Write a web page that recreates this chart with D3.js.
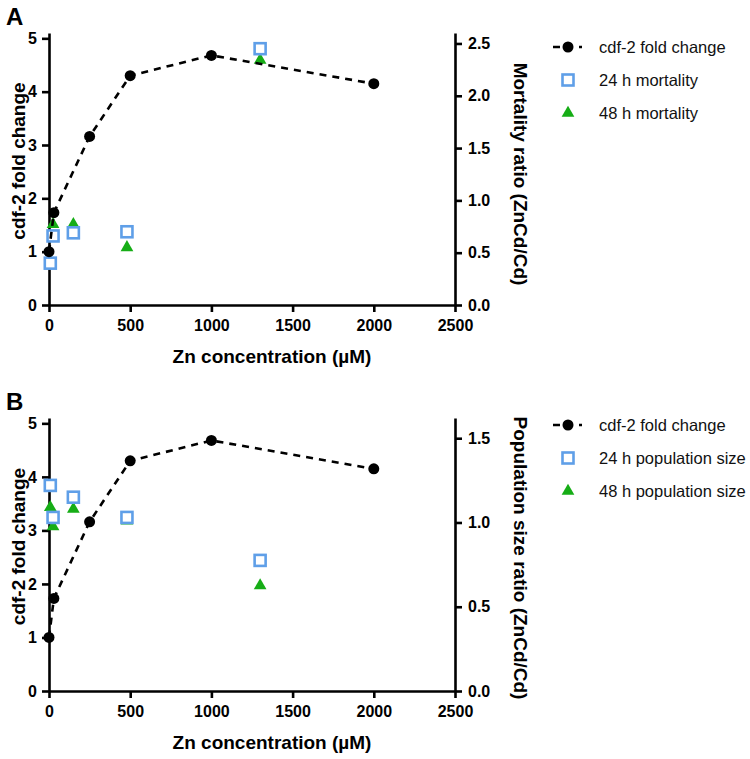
<!DOCTYPE html>
<html>
<head>
<meta charset="utf-8">
<script src="https://cdn.jsdelivr.net/npm/d3@7"></script>
<style>
  html, body { margin: 0; padding: 0; background: #fff; }
  svg text { font-family: "Liberation Sans", Arial, sans-serif; }
</style>
</head>
<body>
<svg id="chart" width="750" height="759"></svg>
<script>
// ---------------- data ----------------
const xTicks = [0, 500, 1000, 1500, 2000, 2500];
const leftTicks = [0, 1, 2, 3, 4, 5];
const rightTicksA = [0, 0.5, 1.0, 1.5, 2.0, 2.5];
const rightTicksB = [0, 0.5, 1.0, 1.5];

const cdfConc = [0, 30, 250, 500, 1000, 2000];
const cdfFold = [1.0, 1.73, 3.16, 4.30, 4.68, 4.15];

const ratioConc = [8, 25, 150, 480, 1300];
const mort24 = [0.40, 0.66, 0.69, 0.70, 2.45];
const mort48 = [0.41, 0.77, 0.77, 0.55, 2.34];
const pop24 = [1.22, 1.03, 1.15, 1.03, 0.775];
const pop48 = [1.09, 0.975, 1.08, 1.01, 0.625];

const legendA = ["cdf-2 fold change", "24 h mortality", "48 h mortality"];
const legendB = ["cdf-2 fold change", "24 h population size", "48 h population size"];

// ---------------- styling ----------------
const BLUE = "#5f9fe8";
const GREEN = "#16ad16";
const svg = d3.select("#chart");

function panel(cfg) {
  const g = svg.append("g");
  const x = d3.scaleLinear().domain([0, 2500]).range([49, 455]);
  const yL = d3.scaleLinear().domain([0, 5.1]).range([cfg.bottom, cfg.top]);
  const yR = d3.scaleLinear().domain([0, cfg.rightMax]).range([cfg.bottom, cfg.top]);

  // axes
  const styleAxis = sel => {
    sel.select(".domain").attr("stroke", "#000").attr("stroke-width", 2.6);
    sel.selectAll(".tick line").attr("stroke", "#000").attr("stroke-width", 2.6);
    sel.selectAll(".tick text").attr("fill", "#000")
      .style("font-size", "16px").style("font-weight", "bold")
      .style("font-family", '"Liberation Sans", Arial, sans-serif');
  };
  g.append("g").attr("transform", `translate(0,${cfg.bottom})`)
    .call(d3.axisBottom(x).tickValues(xTicks).tickSize(7).tickSizeOuter(0).tickPadding(8).tickFormat(d3.format("d")))
    .call(styleAxis);
  g.append("g").attr("transform", `translate(49,0)`)
    .call(d3.axisLeft(yL).tickValues(leftTicks).tickSize(7).tickSizeOuter(0).tickPadding(5).tickFormat(d3.format("d")))
    .call(styleAxis);
  g.append("g").attr("transform", `translate(455,0)`)
    .call(d3.axisRight(yR).tickValues(cfg.rightTicks).tickSize(7).tickSizeOuter(0).tickPadding(6).tickFormat(d3.format(".1f")))
    .call(styleAxis);

  // titles
  g.append("text").attr("x", 6).attr("y", cfg.top - 8)
    .style("font-size", "24px").style("font-weight", "bold").text(cfg.letter);
  g.append("text").attr("x", 272).attr("y", cfg.bottom + 58).attr("text-anchor", "middle")
    .style("font-size", "19px").style("font-weight", "bold").text("Zn concentration (µM)");
  g.append("text")
    .attr("transform", `translate(18,${(cfg.top + cfg.bottom) / 2 - 8}) rotate(-90)`)
    .attr("text-anchor", "middle").attr("dominant-baseline", "central")
    .style("font-size", "19px").style("font-weight", "bold").text("cdf-2 fold change");
  g.append("text")
    .attr("transform", `translate(520,${cfg.rightLabelY}) rotate(90)`)
    .attr("text-anchor", "middle").attr("dominant-baseline", "central")
    .style("font-size", "19px").style("font-weight", "bold").text(cfg.rightLabel);

  const tri = d3.symbol().type(d3.symbolTriangle).size(70);

  // 48 h triangles
  g.append("g").selectAll("path").data(ratioConc.map((c, i) => [c, cfg.s48[i]]))
    .join("path").attr("d", tri)
    .attr("transform", d => `translate(${x(d[0])},${yR(d[1])})`)
    .attr("fill", GREEN);
  // 24 h squares
  g.append("g").selectAll("rect").data(ratioConc.map((c, i) => [c, cfg.s24[i]]))
    .join("rect")
    .attr("x", d => x(d[0]) - 5.5).attr("y", d => yR(d[1]) - 5.5)
    .attr("width", 11).attr("height", 11)
    .attr("fill", "#fff").attr("stroke", BLUE).attr("stroke-width", 2.6);

  // cdf-2 dashed line and points
  const pts = cdfConc.map((c, i) => [c, cdfFold[i]]);
  g.append("path").datum(pts)
    .attr("d", d3.line().x(d => x(d[0])).y(d => yL(d[1])))
    .attr("fill", "none").attr("stroke", "#000").attr("stroke-width", 2.6)
    .attr("stroke-dasharray", "7,6");
  g.append("g").selectAll("circle").data(pts).join("circle")
    .attr("cx", d => x(d[0])).attr("cy", d => yL(d[1])).attr("r", 5.5).attr("fill", "#000");

  // legend
  const lg = g.append("g");
  const ly = cfg.legendY;
  lg.append("line").attr("x1", 553).attr("x2", 582).attr("y1", ly[0]).attr("y2", ly[0])
    .attr("stroke", "#000").attr("stroke-width", 2.6).attr("stroke-dasharray", "7,19,3");
  lg.append("circle").attr("cx", 568).attr("cy", ly[0]).attr("r", 5.5).attr("fill", "#000");
  lg.append("rect").attr("x", 562.5).attr("y", ly[1] - 5.5).attr("width", 11).attr("height", 11)
    .attr("fill", "#fff").attr("stroke", BLUE).attr("stroke-width", 2.6);
  lg.append("path").attr("d", tri).attr("transform", `translate(568,${ly[2]})`).attr("fill", GREEN);
  lg.selectAll("text").data(cfg.legend).join("text")
    .attr("x", 599).attr("y", (d, i) => ly[i]).attr("dominant-baseline", "central")
    .style("font-size", "16.5px").attr("fill", "#111").text(d => d);
}

panel({
  letter: "A", top: 33, bottom: 305, rightMax: 2.6, rightTicks: rightTicksA,
  rightLabel: "Mortality ratio (ZnCd/Cd)", rightLabelY: 174,
  s24: mort24, s48: mort48, legend: legendA, legendY: [47, 80, 113]
});
panel({
  letter: "B", top: 418, bottom: 691, rightMax: 1.62, rightTicks: rightTicksB,
  rightLabel: "Population size ratio (ZnCd/Cd)", rightLabelY: 558,
  s24: pop24, s48: pop48, legend: legendB, legendY: [425, 458, 491]
});
</script>
</body>
</html>
